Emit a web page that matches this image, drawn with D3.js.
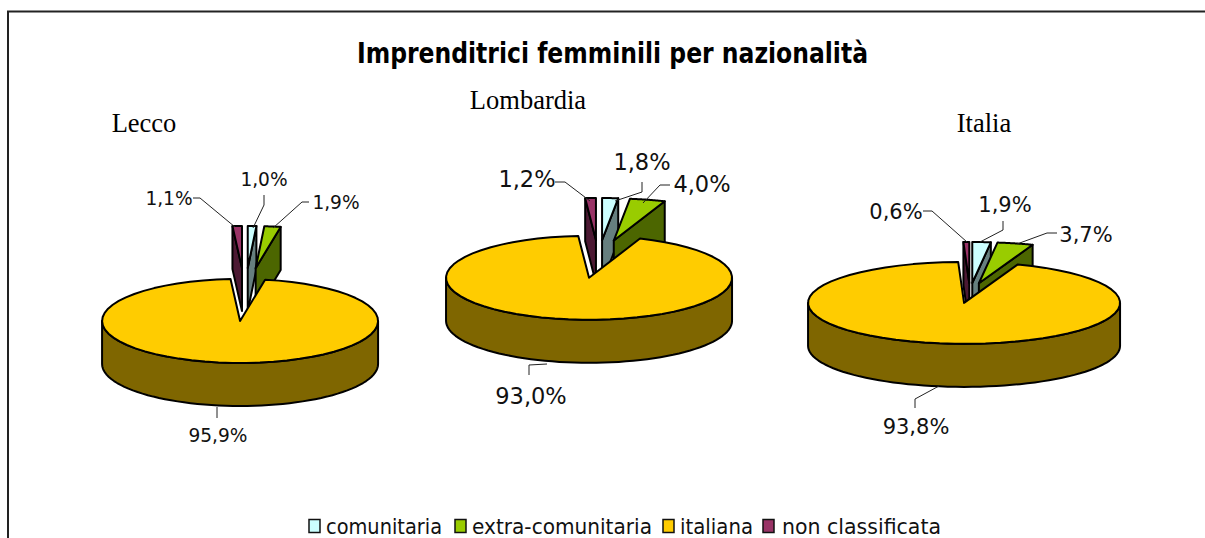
<!DOCTYPE html>
<html><head><meta charset="utf-8">
<script src="https://cdn.jsdelivr.net/npm/d3@7/dist/d3.min.js"></script>
<style>html,body{margin:0;padding:0;background:#fff}svg{display:block}</style>
</head><body><svg id="c" width="1205" height="538"></svg>
<script>
const categories = ["comunitaria","extra-comunitaria","italiana","non classificata"];
const colors = ["#CCFFFF","#99CC00","#FFCC00","#993366"];
const darkColors = ["#667F7F","#4C6600","#7F6600","#4C1933"];
const titleText = "Imprenditrici femminili per nazionalità";
const leccoValues = [1.0,1.9,95.9,1.1];
const lombardiaValues = [1.8,4.0,93.0,1.2];
const italiaValues = [1.9,3.7,93.8,0.6];
const pies = [
 {name:"Lecco", values:leccoValues, cx:245, cy:294.5, rx:138, ry:42, ex:87, ey:26.5, depth:43, fs:18.6,
  nameX:144, nameY:132,
  labels:[{x:264,y:186,pts:[[264,195],[264,205],[253,228]]},{x:336,y:209,pts:[[309,202],[302,202],[273,228]]},{x:218,y:442,pts:[[217,418],[217,407]]},{x:169,y:205,pts:[[193,198],[200,198],[235,227]]}]},
 {name:"Lombardia", values:lombardiaValues, cx:598.4, cy:259, rx:143, ry:42, ex:65, ey:19, depth:43, fs:22.5,
  nameX:528, nameY:109,
  labels:[{x:642,y:170,pts:[[642,182],[642,192],[615,201]]},{x:702,y:192,pts:[[670,185],[660,185],[643,203]]},{x:531,y:404,pts:[[529,375],[529,365],[547,364]]},{x:527,y:187,pts:[[555,182],[565,182],[590,201]]}]},
 {name:"Italia", values:italiaValues, cx:970, cy:293, rx:156, ry:41, ex:38, ey:10, depth:43, fs:21,
  nameX:984, nameY:132,
  labels:[{x:1005,y:212,pts:[[1003,221],[1003,230],[980,242]]},{x:1086,y:242,pts:[[1057,233],[1047,233],[1017,244]]},{x:916,y:434,pts:[[915,408],[915,399],[939,386]]},{x:896,y:219,pts:[[923,211],[932,211],[967,242]]}]}
];
const svg = d3.select("#c");
const ink = "#000";
svg.append("path").attr("d","M8,538V11.5H1205").attr("fill","none").attr("stroke","#222").attr("stroke-width",2);
svg.append("text").attr("x",612.5).attr("y",63).attr("text-anchor","middle")
  .attr("font-family","'DejaVu Sans',sans-serif").attr("font-weight",700).attr("font-size",28)
  .attr("textLength",511).attr("lengthAdjust","spacingAndGlyphs").text(titleText);
const pieGen = d3.pie().sort(null).value(d=>d);
function drawPie(p){
  const g = svg.append("g");
  const arcs = pieGen(p.values).map((a,i)=>{
    const mid=(a.startAngle+a.endAngle)/2;
    return {...a,i,mid,ox:p.cx+p.ex*Math.sin(mid),oy:p.cy-p.ey*Math.cos(mid)};
  });
  const P=(a,th,dz=0)=>[a.ox+p.rx*Math.sin(th),a.oy-p.ry*Math.cos(th)+dz];
  const rim=(a,t0,t1,dz=0)=>d3.range(0,61).map(k=>P(a,t0+(t1-t0)*k/60,dz));
  const line=d3.line();
  const order=arcs.slice().sort((a,b)=>Math.abs(b.mid-Math.PI)-Math.abs(a.mid-Math.PI));
  order.forEach(a=>{
    const sg=g.append("g");
    const stroke=e=>e.attr("stroke",ink).attr("stroke-width",2).attr("stroke-linejoin","round");
    const apex=[a.ox,a.oy];
    if(a.endAngle<Math.PI){
      const o=P(a,a.endAngle);
      sg.append("path").attr("d",line([apex,o,[o[0],o[1]+p.depth],[apex[0],apex[1]+p.depth]])+"Z").attr("fill",darkColors[a.i]).call(stroke);
    }
    if(a.startAngle>Math.PI){
      const o=P(a,a.startAngle);
      sg.append("path").attr("d",line([apex,o,[o[0],o[1]+p.depth],[apex[0],apex[1]+p.depth]])+"Z").attr("fill",darkColors[a.i]).call(stroke);
    }
    const t0=Math.max(a.startAngle,Math.PI/2),t1=Math.min(a.endAngle,3*Math.PI/2);
    if(t1>t0){
      const top=rim(a,t0,t1),bot=rim(a,t1,t0,p.depth);
      sg.append("path").attr("d",line(top.concat(bot))+"Z").attr("fill",darkColors[a.i]).call(stroke);
    }
    sg.append("path").attr("d",line([apex].concat(rim(a,a.startAngle,a.endAngle)))+"Z").attr("fill",colors[a.i]).call(stroke);
  });
  p.labels.forEach((l,i)=>{
    g.append("path").attr("d",line(l.pts)).attr("fill","none").attr("stroke","#222").attr("stroke-width",1);
    g.append("text").attr("x",l.x).attr("y",l.y).attr("text-anchor","middle")
     .attr("font-family","'DejaVu Sans',sans-serif").attr("font-size",p.fs).attr("fill","#111")
     .text(p.values[i].toFixed(1).replace(".",",")+"%");
  });
  svg.append("text").attr("x",p.nameX).attr("y",p.nameY).attr("text-anchor","middle")
    .attr("font-family","'Liberation Serif',serif").attr("font-size",26.5).attr("fill","#000").text(p.name);
}
pies.forEach(drawPie);
const legX=[309,455,663,763], legText=[326,472,680,782], legW=[116,180,73,159];
categories.forEach((c,i)=>{
  svg.append("rect").attr("x",legX[i]).attr("y",519.5).attr("width",11).attr("height",13).attr("fill",colors[i]).attr("stroke","#111").attr("stroke-width",1.5);
  svg.append("text").attr("x",legText[i]).attr("y",534).attr("font-family","'DejaVu Sans',sans-serif").attr("font-size",22).attr("fill","#111")
    .attr("textLength",legW[i]).attr("lengthAdjust","spacingAndGlyphs").text(c);
});
</script></body></html>
